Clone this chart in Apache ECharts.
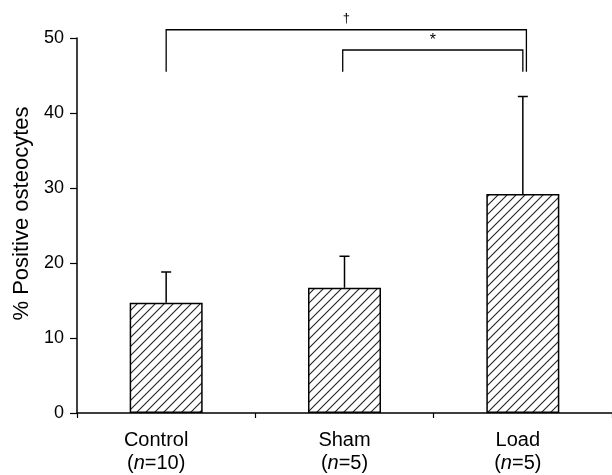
<!DOCTYPE html>
<html>
<head>
<meta charset="utf-8">
<script src="https://cdn.jsdelivr.net/npm/echarts@6/dist/echarts.min.js"></script>
<style>html,body{margin:0;padding:0;background:#fff;}#c{width:612px;height:475px;}</style>
</head>
<body>
<div id="c"></div>
<script>
const categories = ['Control', 'Sham', 'Load'];
const nLabels = ['10', '5', '5'];
const means = [14.7, 16.7, 29.2];
const errUpper = [18.8, 20.9, 42.2];
const yTicks = [0, 10, 20, 30, 40, 50];
const bracketFrom = [0, 0.99];
const bracketTo = [2.02, 2.0];
const bracketTop = [51.1, 48.4];
const bracketLegBottom = [45.5, 45.5];
const bracketMarks = ['\u2020', '*'];
const labelShift = [20, 0, 10];

function hatch() {
  const s = 9;
  const c = document.createElement('canvas');
  c.width = s; c.height = s;
  const g = c.getContext('2d');
  g.fillStyle = '#fff'; g.fillRect(0, 0, s, s);
  g.strokeStyle = '#222'; g.lineWidth = 1.1;
  g.beginPath();
  g.moveTo(-1, s + 1); g.lineTo(s + 1, -1);
  g.moveTo(-1, 1); g.lineTo(1, -1);
  g.moveTo(s - 1, s + 1); g.lineTo(s + 1, s - 1);
  g.stroke();
  return c;
}

const chart = echarts.init(document.getElementById('c'), null, {renderer: 'canvas'});
const font = 'Liberation Sans, Arial, Helvetica, sans-serif';

chart.setOption({
  animation: false,
  backgroundColor: '#fff',
  grid: {left: 77, right: -3, top: 38, bottom: 62, containLabel: false},
  xAxis: [{
    type: 'category',
    data: categories.map(function (c, i) { return {value: c, textStyle: {padding: [0, labelShift[i], 0, 0]}}; }),
    axisLine: {onZero: false, lineStyle: {color: '#000', width: 1.5}},
    axisTick: {show: true, length: 5, lineStyle: {color: '#000', width: 1.2}, alignWithLabel: false},
    axisLabel: {
      margin: 16,
      interval: 0,
      formatter: function (v, i) { return '{a|' + v + '}\n{p|(}{n|n}{p|=' + nLabels[i] + ')}'; },
      rich: {
        a: {fontSize: 20, fontFamily: font, color: '#000', lineHeight: 23},
        p: {fontSize: 20, fontFamily: font, color: '#000', lineHeight: 23},
        n: {fontSize: 20, fontFamily: font, color: '#000', fontStyle: 'italic', lineHeight: 23}
      }
    }
  }, {
    type: 'value', min: -0.5, max: 2.5, show: false
  }],
  yAxis: {
    type: 'value', min: 0, max: 50, interval: 10,
    name: '% Positive osteocytes',
    nameLocation: 'middle', nameGap: 44, nameRotate: 90,
    nameTextStyle: {fontSize: 22, fontFamily: font, color: '#000', padding: [0, 0, 0, 24]},
    axisLine: {show: true, onZero: false, lineStyle: {color: '#000', width: 1.5}},
    axisTick: {show: true, length: 7, lineStyle: {color: '#000', width: 1.2}},
    axisLabel: {margin: 13, fontSize: 18, fontFamily: font, color: '#000',
      formatter: function (v) { return yTicks.indexOf(v) >= 0 ? String(v) : ''; }},
    splitLine: {show: false}
  },
  series: [{
    type: 'bar',
    data: means,
    barWidth: 73,
    itemStyle: {color: {image: hatch(), repeat: 'repeat'}, borderColor: '#000', borderWidth: 1.5},
    z: 2
  }, {
    type: 'custom',
    data: errUpper.map(function (e, i) { return [i, means[i], e]; }),
    z: 3,
    renderItem: function (params, api) {
      const b = api.coord([api.value(0), api.value(1)]);
      const t = api.coord([api.value(0), api.value(2)]);
      return {type: 'group', children: [
        {type: 'line', shape: {x1: b[0], y1: b[1], x2: t[0], y2: t[1]}, style: {stroke: '#000', lineWidth: 1.5}},
        {type: 'line', shape: {x1: t[0] - 5, y1: t[1], x2: t[0] + 5, y2: t[1]}, style: {stroke: '#000', lineWidth: 1.5}}
      ]};
    }
  }, {
    type: 'custom',
    xAxisIndex: 1,
    clip: false,
    data: bracketFrom.map(function (f, i) { return [f, bracketTo[i], bracketTop[i], bracketLegBottom[i]]; }),
    z: 4,
    renderItem: function (params, api) {
      const i = params.dataIndex;
      const a = api.coord([api.value(0), api.value(2)]);
      const b = api.coord([api.value(1), api.value(2)]);
      const la = api.coord([api.value(0), api.value(3)]);
      const lb = api.coord([api.value(1), api.value(3)]);
      const isStar = bracketMarks[i] === '*';
      return {type: 'group', children: [
        {type: 'polyline', shape: {points: [[la[0], la[1]], [a[0], a[1]], [b[0], b[1]], [lb[0], lb[1]]]},
          style: {stroke: '#000', lineWidth: 1.3, fill: null}},
        {type: 'text', x: (a[0] + b[0]) / 2, y: a[1] - (isStar ? 1 : 5),
          style: {text: bracketMarks[i], fontSize: isStar ? 16 : 13, fontFamily: font, fill: '#000',
            align: 'center', verticalAlign: 'bottom'}}
      ]};
    }
  }]
});
</script>
</body>
</html>
